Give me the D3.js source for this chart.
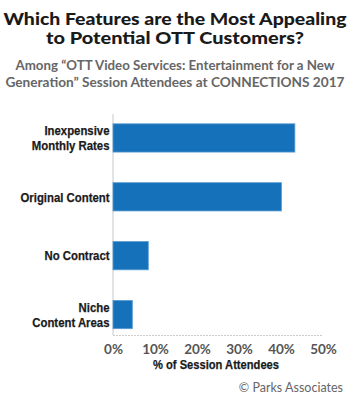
<!DOCTYPE html>
<html><head><meta charset="utf-8">
<script src="https://cdn.jsdelivr.net/npm/d3@7"></script>
<style>body{margin:0;background:#fff}svg{display:block}</style>
</head><body>
<script>
const titleLines = ["Which Features are the Most Appealing", "to Potential OTT Customers?"];
const subtitleLines = ["Among \u201COTT Video Services: Entertainment for a New", "Generation\u201D Session Attendees at CONNECTIONS 2017"];
const categories = [["Inexpensive", "Monthly Rates"], ["Original Content"], ["No Contract"], ["Niche", "Content Areas"]];
const values = [43.3, 40.1, 8.4, 4.6];
const tickValues = [0, 10, 20, 30, 40, 50];
const axisTitle = "% of Session Attendees";
const source = "\u00A9 Parks Associates";

const W = 350, H = 400;
const svg = d3.select("body").append("svg").attr("width", W).attr("height", H);

const baseFont = "Lato, 'Open Sans', sans-serif";
const narrowFont = "'Liberation Sans', Arial, sans-serif";

function fitText(sel, target) {
  if (sel.node().getComputedTextLength() > 0)
    sel.attr("textLength", target).attr("lengthAdjust", "spacingAndGlyphs");
}
function squeeze(sel, ratio) {
  const len = sel.node().getComputedTextLength();
  if (len > 0) sel.attr("textLength", len * ratio).attr("lengthAdjust", "spacingAndGlyphs");
}

// Title
const titleY = [24.5, 43.5];
const titleW = [343, 258];
titleLines.forEach((t, i) => {
  const s = svg.append("text").attr("x", 175).attr("y", titleY[i]).attr("text-anchor", "middle")
    .style("font-family", baseFont).style("font-weight", 900)
    .style("font-size", "17px").style("fill", "#1a1a1a").text(t);
  fitText(s, titleW[i]);
});
const subY = [69.5, 87];
const subW = [319, 339];
subtitleLines.forEach((t, i) => {
  const s = svg.append("text").attr("x", 175).attr("y", subY[i]).attr("text-anchor", "middle")
    .style("font-family", baseFont).style("font-weight", 700)
    .style("font-size", "13px").style("fill", "#666").text(t);
  fitText(s, subW[i]);
});

const x = d3.scaleLinear().domain([0, 50]).range([113, 323]);
const y = d3.scaleBand().domain(d3.range(categories.length)).range([108.5, 344]).paddingInner(0.52).paddingOuter(0.26);

// vertical axis line
svg.append("line").attr("x1", x(0)).attr("x2", x(0)).attr("y1", 114).attr("y2", 335)
  .attr("stroke", "#c8c8c8").attr("stroke-width", 1);

// bars
svg.selectAll("rect.bar").data(values).join("rect").attr("class", "bar")
  .attr("x", x(0)).attr("y", (d, i) => y(i)).attr("width", d => x(d) - x(0)).attr("height", y.bandwidth())
  .attr("fill", "#1572ba").attr("stroke", "#5a9bd2").attr("stroke-width", 0.8);

// x axis
const xAxis = d3.axisBottom(x).tickValues(tickValues).tickFormat(d => d + "%").tickSize(0).tickPadding(9);
const gx = svg.append("g").attr("transform", "translate(0,335)").call(xAxis);
gx.select(".domain").attr("stroke", "#999").attr("stroke-dasharray", "1,2");
gx.selectAll("text").style("font-family", baseFont).style("font-weight", 700)
  .style("font-size", "13.5px").style("fill", "#555");

// y labels (condensed look)
const labelSel = [];
categories.forEach((lines, i) => {
  const cy = y(i) + y.bandwidth() / 2;
  const n = lines.length;
  lines.forEach((l, j) => {
    const s = svg.append("text").attr("x", 109.5).attr("y", cy + (j - (n - 1) / 2) * 14.5 + 4.7)
      .attr("text-anchor", "end").style("font-family", narrowFont).style("font-weight", 700)
      .style("font-size", "13px").style("fill", "#1a1a1a")
      .style("stroke", "#1a1a1a").style("stroke-width", "0.25px").text(l);
    labelSel.push(s);
  });
});
const ref = labelSel.find(s => s.text() === "Original Content");
const ratio = 89 / ref.node().getComputedTextLength();
labelSel.forEach(s => squeeze(s, ratio));

const at = svg.append("text").attr("x", 216).attr("y", 369).attr("text-anchor", "middle")
  .style("font-family", narrowFont).style("font-weight", 700).style("font-size", "13px")
  .style("fill", "#1a1a1a").style("stroke", "#1a1a1a").style("stroke-width", "0.25px").text(axisTitle);
const atRatio = 126 / at.node().getComputedTextLength();
squeeze(at, atRatio);

svg.append("text").attr("x", 343).attr("y", 392).attr("text-anchor", "end")
  .style("font-family", baseFont).style("font-size", "12.5px")
  .style("fill", "#666").text(source);
</script>
</body></html>
